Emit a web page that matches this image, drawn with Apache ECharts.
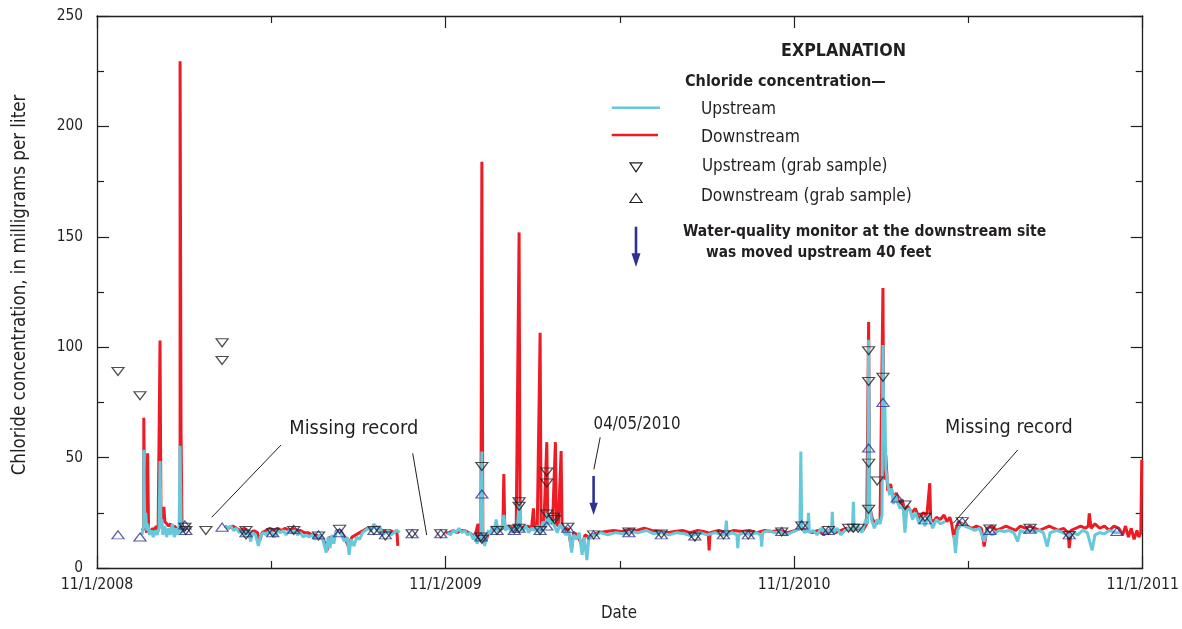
<!DOCTYPE html>
<html><head><meta charset="utf-8">
<script src="https://cdn.jsdelivr.net/npm/echarts@6/dist/echarts.min.js"></script>
<style>html,body{margin:0;padding:0;background:#fff}#c{width:1182px;height:629px}</style>
</head><body><div id="c"></div><script>
// ---------- DATA ----------
const xTickDates  = ['2008-11-01','2009-11-01','2010-11-01','2011-11-01'];
const xTickLabels = ['11/1/2008','11/1/2009','11/1/2010','11/1/2011'];
const yMin = 0, yMax = 250, yStep = 50;

// continuous record, upstream monitor (null = missing record)
const upstreamRecord = [
['2008-12-18',15],['2008-12-19',17],['2008-12-20',19],['2008-12-20',53.5],['2008-12-21',20],['2008-12-22',25],['2008-12-23',17],['2008-12-24',20],['2008-12-26',15],['2008-12-28',17],['2008-12-30',14],['2009-01-01',17],['2009-01-03',15],['2009-01-05',18],['2009-01-06',48.5],['2009-01-07',18],['2009-01-08',22],['2009-01-09',15],['2009-01-11',19],['2009-01-13',14],['2009-01-15',18],['2009-01-17',15],['2009-01-19',20],['2009-01-21',14],['2009-01-23',18],['2009-01-25',15],['2009-01-26',19],['2009-01-27',55.4],['2009-01-28',21],['2009-01-29',16],['2009-01-31',18],['2009-02-02',17],
['2009-02-20',null],
['2009-03-15',19],['2009-03-18',18],['2009-03-21',19],['2009-03-24',17],['2009-03-27',18],['2009-03-30',16],['2009-04-02',17],['2009-04-05',15],['2009-04-08',17],['2009-04-11',12],['2009-04-13',16],['2009-04-16',15],['2009-04-19',10],['2009-04-21',14],['2009-04-24',16],['2009-04-27',15],['2009-04-30',17],['2009-05-03',16],['2009-05-06',14],['2009-05-09',17],['2009-05-12',16],['2009-05-15',17],['2009-05-18',15],['2009-05-21',17],['2009-05-24',16],['2009-05-27',17],['2009-05-30',15],['2009-06-02',16],['2009-06-05',14],['2009-06-08',15],['2009-06-11',14],['2009-06-14',15],['2009-06-17',13],['2009-06-20',14],['2009-06-23',15],['2009-06-26',12],['2009-06-29',7],['2009-07-01',14],['2009-07-03',9],['2009-07-05',15],['2009-07-07',11],['2009-07-09',16],['2009-07-12',17],['2009-07-15',15],['2009-07-18',12],['2009-07-21',14],['2009-07-23',6],['2009-07-25',13],['2009-07-28',10],['2009-07-31',14],['2009-08-03',13],['2009-08-06',16],['2009-08-09',17],['2009-08-12',18],['2009-08-15',17],['2009-08-18',20],['2009-08-21',17],['2009-08-24',19],['2009-08-27',15],['2009-08-30',16],['2009-09-02',17],['2009-09-05',15],['2009-09-08',16],['2009-09-11',17],['2009-09-14',16],
['2009-10-10',null],
['2009-11-03',16],['2009-11-06',15],['2009-11-09',17],['2009-11-12',16],['2009-11-15',18],['2009-11-18',16],['2009-11-21',17],['2009-11-24',15],['2009-11-27',16],['2009-11-30',13],['2009-12-02',15],['2009-12-04',11],['2009-12-06',14],['2009-12-08',13],['2009-12-09',52.7],['2009-12-10',14],['2009-12-12',10],['2009-12-14',15],['2009-12-16',17],['2009-12-18',15],['2009-12-20',19],['2009-12-22',17],['2009-12-24',22],['2009-12-26',16],['2009-12-28',19],['2009-12-30',18],['2010-01-01',24],['2010-01-03',17],['2010-01-06',19],['2010-01-09',16],['2010-01-12',18],['2010-01-15',17],['2010-01-17',30],['2010-01-18',18],['2010-01-21',17],['2010-01-24',19],['2010-01-27',16],['2010-01-30',18],['2010-02-02',17],['2010-02-05',19],['2010-02-08',16],['2010-02-11',21],['2010-02-14',18],['2010-02-15',25],['2010-02-17',20],['2010-02-20',22],['2010-02-23',19],['2010-02-26',16],['2010-03-01',20],['2010-03-04',17],['2010-03-07',15],['2010-03-10',17],['2010-03-13',7],['2010-03-15',15],['2010-03-18',13],['2010-03-21',16],['2010-03-24',6],['2010-03-26',14],['2010-03-29',3.6],['2010-03-31',14],['2010-04-03',15],['2010-04-07',15],['2010-04-12',16],['2010-04-20',15],['2010-04-28',16],['2010-05-06',15.5],['2010-05-14',16.5],['2010-05-22',16],['2010-05-30',17],['2010-06-07',15.5],['2010-06-15',16],['2010-06-23',15],['2010-07-01',16],['2010-07-09',15.5],['2010-07-17',14.5],['2010-07-25',16],['2010-08-02',15],['2010-08-10',16],['2010-08-18',15],['2010-08-21',15.5],['2010-08-22',21.5],['2010-08-23',15],['2010-08-28',16],['2010-09-02',15],['2010-09-03',9],['2010-09-04',15],['2010-09-10',16],['2010-09-16',15],['2010-09-22',16],['2010-09-27',15],['2010-09-28',9.7],['2010-09-29',16],['2010-10-05',17],['2010-10-11',16],['2010-10-17',16.5],['2010-10-23',15],['2010-10-29',16],['2010-11-03',17],['2010-11-07',18],['2010-11-08',52.7],['2010-11-09',18],['2010-11-12',16],['2010-11-15',17],['2010-11-16',25],['2010-11-17',16],['2010-11-21',17],['2010-11-25',15],['2010-11-29',18],['2010-12-03',16],['2010-12-07',17],['2010-12-10',16],['2010-12-11',25.5],['2010-12-12',16],['2010-12-16',18],['2010-12-20',15],['2010-12-24',17],['2010-12-28',18],['2011-01-01',17],['2011-01-02',30],['2011-01-03',17],['2011-01-07',19],['2011-01-11',16],['2011-01-15',22],['2011-01-17',20],['2011-01-18',103.4],['2011-01-19',30],['2011-01-21',22],['2011-01-24',18],['2011-01-27',22],['2011-01-30',20],['2011-02-01',24],['2011-02-02',101],['2011-02-03',60],['2011-02-04',75],['2011-02-05',45],['2011-02-07',38],['2011-02-09',33],['2011-02-11',36],['2011-02-13',29],['2011-02-15',33],['2011-02-17',30],['2011-02-20',27],['2011-02-23',28],['2011-02-25',16],['2011-02-27',26],['2011-03-02',27],['2011-03-05',22],['2011-03-08',25],['2011-03-12',20],['2011-03-15',23],['2011-03-18',19],['2011-03-22',24],['2011-03-26',18],['2011-03-30',22],['2011-04-03',20],['2011-04-08',21],
['2011-04-12',null],
['2011-04-17',15],['2011-04-19',6.8],['2011-04-21',17],['2011-04-25',20],['2011-04-29',19],['2011-05-04',18],['2011-05-09',17],['2011-05-14',18],['2011-05-19',12],['2011-05-22',17],['2011-05-27',15],['2011-05-31',16],['2011-06-04',17],['2011-06-09',16.5],['2011-06-14',17],['2011-06-19',16],['2011-06-23',12],['2011-06-26',17],['2011-07-01',16],['2011-07-06',17],['2011-07-11',16.5],['2011-07-16',17],['2011-07-20',16],['2011-07-24',9.7],['2011-07-27',16],['2011-08-03',17],['2011-08-09',16],['2011-08-16',14.7],['2011-08-20',16],['2011-08-25',15],['2011-08-30',17],['2011-09-04',16],['2011-09-09',8],['2011-09-12',15],['2011-09-17',16],['2011-09-22',15.5],['2011-09-27',17],['2011-10-03',16],['2011-10-09',16]
];

// continuous record, downstream monitor (null = missing record)
const downstreamRecord = [
['2008-12-18',17],['2008-12-20',18],['2008-12-20',68],['2008-12-21',20],['2008-12-23',16],['2008-12-24',52],['2008-12-25',17],['2008-12-27',16],['2008-12-29',18],['2008-12-31',17],['2009-01-02',19],['2009-01-04',17],['2009-01-06',103],['2009-01-07',20],['2009-01-09',22],['2009-01-10',27.7],['2009-01-11',21],['2009-01-13',20],['2009-01-15',19],['2009-01-17',20],['2009-01-19',18],['2009-01-21',19],['2009-01-23',18],['2009-01-25',17],['2009-01-27',18],['2009-01-27',229.5],['2009-01-28',62],['2009-01-29',20],['2009-01-31',18],['2009-02-02',18],
['2009-02-20',null],
['2009-03-15',19],['2009-03-19',18],['2009-03-23',19],['2009-03-27',18],['2009-03-31',17],['2009-04-04',18],['2009-04-08',17],['2009-04-11',14],['2009-04-14',17],['2009-04-18',16],['2009-04-20',12],['2009-04-23',16],['2009-04-27',17],['2009-05-01',18],['2009-05-05',17],['2009-05-09',18],['2009-05-13',17],['2009-05-17',18],['2009-05-21',17],['2009-05-25',18],['2009-05-29',17],['2009-06-02',17],['2009-06-06',16],['2009-06-10',16],['2009-06-14',15],['2009-06-18',15],['2009-06-22',14],['2009-06-26',13],['2009-06-30',8],['2009-07-02',14],['2009-07-06',12],['2009-07-10',17],['2009-07-14',17],['2009-07-18',14],['2009-07-22',10],['2009-07-26',14],['2009-07-30',15],['2009-08-03',16],['2009-08-07',17],['2009-08-11',18],['2009-08-15',18],['2009-08-19',19],['2009-08-23',18],['2009-08-27',17],['2009-08-31',17],['2009-09-04',17],['2009-09-08',16],['2009-09-11',17],['2009-09-12',10],
['2009-10-10',null],
['2009-11-01',16],['2009-11-05',16],['2009-11-09',17],['2009-11-13',16],['2009-11-17',17],['2009-11-21',17],['2009-11-25',16],['2009-11-29',15],['2009-12-02',15],['2009-12-05',20],['2009-12-06',14],['2009-12-08',15],['2009-12-09',184],['2009-12-10',15],['2009-12-13',12],['2009-12-16',16],['2009-12-20',17],['2009-12-24',18],['2009-12-27',17],['2009-12-31',18],['2010-01-01',42.6],['2010-01-02',18],['2010-01-06',19],['2010-01-10',18],['2010-01-14',19],['2010-01-17',152],['2010-01-18',19],['2010-01-22',18],['2010-01-26',19],['2010-01-30',18],['2010-02-01',27],['2010-02-02',19],['2010-02-05',18],['2010-02-08',106.5],['2010-02-09',19],['2010-02-12',20],['2010-02-15',57],['2010-02-16',22],['2010-02-19',21],['2010-02-21',20],['2010-02-24',57],['2010-02-25',20],['2010-02-27',19],['2010-03-02',53],['2010-03-03',18],['2010-03-06',17],['2010-03-09',18],['2010-03-13',9],['2010-03-15',16],['2010-03-19',15],['2010-03-24',10],['2010-03-27',15],['2010-03-31',14],['2010-04-04',15],['2010-04-10',16],['2010-04-18',16.5],['2010-04-26',17],['2010-05-04',16.5],['2010-05-12',17.5],['2010-05-20',17],['2010-05-28',18],['2010-06-05',17],['2010-06-13',16.5],['2010-06-21',16],['2010-06-29',16.5],['2010-07-07',17],['2010-07-15',16],['2010-07-23',17],['2010-07-29',16.5],['2010-08-03',16],['2010-08-04',8],['2010-08-05',16],['2010-08-14',17],['2010-08-22',16],['2010-08-30',17],['2010-09-07',16.5],['2010-09-15',17],['2010-09-23',16],['2010-10-01',17],['2010-10-09',16.5],['2010-10-17',17],['2010-10-25',16],['2010-11-02',17],['2010-11-08',18],['2010-11-14',17],['2010-11-20',16],['2010-11-26',17],['2010-12-02',15],['2010-12-08',17],['2010-12-14',16],['2010-12-20',17],['2010-12-26',18],['2011-01-01',17],['2011-01-07',18],['2011-01-12',17],['2011-01-16',20],['2011-01-18',111.4],['2011-01-19',28],['2011-01-22',22],['2011-01-26',20],['2011-01-30',22],['2011-02-02',126.8],['2011-02-03',40],['2011-02-05',51],['2011-02-07',35],['2011-02-10',38],['2011-02-13',31],['2011-02-16',34],['2011-02-19',29],['2011-02-22',31],['2011-02-25',26],['2011-02-28',28],['2011-03-04',25],['2011-03-08',27],['2011-03-12',22],['2011-03-16',25],['2011-03-20',24],['2011-03-23',38.4],['2011-03-24',22],['2011-03-27',21],['2011-03-30',23],['2011-04-03',22],['2011-04-07',24],['2011-04-10',21],['2011-04-13',23],['2011-04-15',20],['2011-04-17',14],['2011-04-19',17],['2011-04-22',21],['2011-04-26',20],['2011-05-01',19],['2011-05-06',18],['2011-05-11',19],['2011-05-16',18],['2011-05-19',9.7],['2011-05-22',18],['2011-05-27',19],['2011-06-01',17],['2011-06-06',18],['2011-06-11',19],['2011-06-16',18],['2011-06-21',17],['2011-06-26',19],['2011-07-01',18],['2011-07-06',19],['2011-07-11',18],['2011-07-16',17],['2011-07-21',18],['2011-07-26',19],['2011-07-31',18],['2011-08-05',17],['2011-08-10',18],['2011-08-15',16],['2011-08-16',9],['2011-08-18',17],['2011-08-23',18],['2011-08-28',19],['2011-09-02',18],['2011-09-05',19],['2011-09-06',24.8],['2011-09-08',18],['2011-09-12',20],['2011-09-17',18],['2011-09-22',19],['2011-09-27',17],['2011-10-02',19],['2011-10-07',18],['2011-10-11',15],['2011-10-14',19],['2011-10-17',14],['2011-10-20',18],['2011-10-23',13],['2011-10-26',17],['2011-10-28',14],['2011-10-30',16],['2011-10-31',49]
];

// grab samples
const upstreamGrab = [
['2008-11-23',89],['2008-12-16',78],['2009-02-01',18.5],['2009-02-02',17],['2009-02-23',17],['2009-03-12',102],['2009-03-12',94],
['2009-04-06',17],['2009-04-06',15],['2009-05-04',16],['2009-05-26',17],['2009-06-21',14.5],['2009-07-13',17.5],['2009-08-18',17],['2009-08-30',14.5],
['2009-09-27',15.5],['2009-10-27',15.5],['2009-12-09',46],['2009-12-08',14],['2009-12-09',13],['2009-12-25',17],['2010-01-12',17.5],['2010-01-17',30],['2010-01-17',28],['2010-01-17',18],
['2010-02-08',17],['2010-02-15',43.5],['2010-02-15',38.5],['2010-02-15',24.5],['2010-02-22',23],['2010-02-23',22],['2010-03-09',18.5],['2010-04-05',15],
['2010-05-12',16.3],['2010-06-15',15.4],['2010-07-20',14],['2010-08-19',15],['2010-09-14',15],['2010-10-19',16.3],['2010-11-09',19],['2010-12-07',17],
['2010-12-28',18],['2011-01-02',18],['2011-01-07',18],['2011-01-18',98.4],['2011-01-18',84.5],['2011-01-18',47.5],['2011-01-18',26.6],['2011-01-27',39.4],['2011-02-02',86.4],
['2011-02-25',28.5],['2011-03-18',23],['2011-04-26',21],['2011-05-25',17.7],['2011-07-06',18],['2011-08-16',14.7]
];
const downstreamGrab = [
['2008-11-23',15],['2008-12-16',14],['2009-02-01',19.5],['2009-02-02',17],['2009-03-12',18.5],['2009-04-06',16],['2009-05-04',16],['2009-05-26',17.5],
['2009-06-21',15],['2009-07-13',16],['2009-08-18',17],['2009-08-30',15],['2009-09-27',15.5],['2009-10-27',15.5],['2009-12-09',33.5],['2009-12-08',14],
['2009-12-25',17],['2010-01-12',17],['2010-01-17',18],['2010-02-08',17],['2010-02-15',19],['2010-03-09',18],['2010-04-05',15],['2010-05-12',16],
['2010-06-15',15],['2010-07-20',14.5],['2010-08-19',15],['2010-09-14',15],['2010-10-19',16.5],['2010-11-09',19.5],['2010-12-07',17],['2011-01-18',54.3],
['2011-02-02',75],['2011-02-17',31.7],['2011-03-18',21.8],['2011-04-26',21],['2011-05-25',17],['2011-07-06',17.5],['2011-08-16',15],['2011-10-05',16.5]
];
const monitorMoveDate = '2010-04-05';
const monitorMoveLabel = '04/05/2010';

// ---------- HELPERS ----------
const DAY0 = Date.UTC(2008, 10, 1);
function toDay(s){ const p = s.split('-').map(Number); return (Date.UTC(p[0], p[1]-1, p[2]) - DAY0) / 864e5; }
function build(rec){ return rec.map(r => [toDay(r[0]), r[1] == null ? '-' : r[1]]); }

const FONT = "'Liberation Sans Narrow','DejaVu Sans Condensed','Arial Narrow',sans-serif";
const mctx = document.createElement('canvas').getContext('2d');
function fit(text, width, weight){ mctx.font = (weight || 'normal') + ' 100px ' + FONT; return 100 * width / mctx.measureText(text).width; }

const INK = '#231F20', CYAN = '#67C8DA', RED = '#ED1C24', NAVY = '#2E3192';
const xMin = toDay(xTickDates[0]), xMax = toDay(xTickDates[xTickDates.length-1]);
const xStep = toDay(xTickDates[1]) - toDay(xTickDates[0]);

const tickFs = fit(xTickLabels[1], 66) * 1.1;
const yTickFs = fit('250', 24) * 1.1;

function axisCommon(){
  return {
    axisLine: {show: true, onZero: false, lineStyle: {color: INK, width: 1.3}},
    axisTick: {show: true, inside: true, length: 12, lineStyle: {color: INK, width: 1.2}},
    minorTick: {show: true, splitNumber: 2, length: 7, lineStyle: {color: INK, width: 1.2}},
    splitLine: {show: false}, minorSplitLine: {show: false}
  };
}

const chart = echarts.init(document.getElementById('c'), null, {renderer: 'canvas'});
const option = {
  animation: false,
  backgroundColor: '#fff',
  grid: {left: 97, right: 37, top: 16, bottom: 61, containLabel: false},
  xAxis: [
    Object.assign({type: 'value', min: xMin, max: xMax, interval: xStep, position: 'bottom',
      axisLabel: {show: true, margin: 9, color: INK, fontSize: tickFs, fontFamily: FONT,
        formatter: v => { const i = xTickDates.findIndex(d => Math.abs(toDay(d) - v) < 0.5); return i >= 0 ? xTickLabels[i] : ''; }}}, axisCommon()),
    Object.assign({type: 'value', min: xMin, max: xMax, interval: xStep, position: 'top', axisLabel: {show: false}}, axisCommon())
  ],
  yAxis: [
    Object.assign({type: 'value', min: yMin, max: yMax, interval: yStep, position: 'left',
      axisLabel: {show: true, margin: 14, color: INK, fontSize: yTickFs, fontFamily: FONT}}, axisCommon()),
    Object.assign({type: 'value', min: yMin, max: yMax, interval: yStep, position: 'right', axisLabel: {show: false}}, axisCommon())
  ],
  series: [
    {name: 'Downstream', type: 'line', data: build(downstreamRecord), showSymbol: false, silent: true, connectNulls: false,
      lineStyle: {color: RED, width: 3, join: 'bevel'}, z: 2},
    {name: 'Upstream', type: 'line', data: build(upstreamRecord), showSymbol: false, silent: true, connectNulls: false,
      lineStyle: {color: CYAN, width: 3, join: 'bevel'}, z: 3},
    {name: 'Downstream (grab sample)', type: 'scatter', data: build(downstreamGrab), symbol: 'triangle', symbolSize: [12, 8], silent: true,
      itemStyle: {color: 'rgba(0,0,0,0)', borderColor: NAVY, borderWidth: 1.2}, z: 4},
    {name: 'Upstream (grab sample)', type: 'scatter', data: build(upstreamGrab), symbol: 'triangle', symbolRotate: 180, symbolSize: [12, 8], silent: true,
      itemStyle: {color: 'rgba(0,0,0,0)', borderColor: INK, borderWidth: 1.2}, z: 5}
  ]
};
chart.setOption(option);

// ---------- ANNOTATIONS & EXPLANATION ----------
function txt(text, x, y, width, opts){
  opts = opts || {};
  const weight = opts.bold ? 'bold' : 'normal';
  const fs = fit(text, width, weight);
  return {type: 'text', x: x, y: y, rotation: opts.rotation || 0, silent: true, z: 10,
    style: {text: text, x: 0, y: 0, fill: INK, fontSize: fs, fontWeight: weight, fontFamily: FONT,
      align: opts.align || 'left', verticalAlign: 'middle', textAlign: opts.align || 'left', textVerticalAlign: 'middle'}};
}
function seg(x1, y1, x2, y2, color, w){
  return {type: 'line', silent: true, z: 10, shape: {x1, y1, x2, y2}, style: {stroke: color || INK, lineWidth: w || 1}};
}
function tri(cx, cy, w, h, down, color){
  const pts = down ? [[cx - w/2, cy - h/2], [cx + w/2, cy - h/2], [cx, cy + h/2]]
                   : [[cx - w/2, cy + h/2], [cx + w/2, cy + h/2], [cx, cy - h/2]];
  return {type: 'polygon', silent: true, z: 10, shape: {points: pts}, style: {fill: 'none', stroke: color || INK, lineWidth: 1.2}};
}
function arrow(x, yTop, yBase, yTip, headW){
  return [seg(x, yTop, x, yBase + 2, NAVY, 2.6),
    {type: 'polygon', silent: true, z: 10, shape: {points: [[x - headW/2, yBase], [x + headW/2, yBase], [x, yTip]]}, style: {fill: NAVY}}];
}

const mvX = chart.convertToPixel({xAxisIndex: 0}, toDay(monitorMoveDate));
const yTop = chart.convertToPixel({yAxisIndex: 0}, 41.7);
const yBase = chart.convertToPixel({yAxisIndex: 0}, 29.6);
const yTip = chart.convertToPixel({yAxisIndex: 0}, 24);

const graphics = [
  // axis titles
  txt('Chloride concentration, in milligrams per liter', 20, 285, 381, {align: 'center', rotation: Math.PI/2}),
  txt('Date', 619, 614, 36, {align: 'center'}),
  // explanation
  txt('EXPLANATION', 843.5, 51.5, 125, {bold: true, align: 'center'}),
  txt('Chloride concentration\u2014', 685, 81.5, 201, {bold: true}),
  seg(611.7, 107.7, 660, 107.7, CYAN, 2.6),
  txt('Upstream', 701, 110, 75),
  seg(611.7, 135, 658, 135, RED, 2.6),
  txt('Downstream', 701, 137, 99),
  tri(636, 167.3, 12, 9, true),
  txt('Upstream (grab sample)', 702, 167, 185.6),
  tri(636, 198, 12, 9, false),
  txt('Downstream (grab sample)', 701, 197, 211),
  ...arrow(636, 226.7, 253.3, 267, 9),
  txt('Water-quality monitor at the downstream site', 683, 232, 363.7, {bold: true}),
  txt('was moved upstream 40 feet', 706, 253, 225.7, {bold: true}),
  // annotations
  txt('Missing record', 289.3, 429.3, 129),
  seg(281, 445, 211.7, 517.3),
  seg(412.7, 453.3, 426.7, 535),
  txt('Missing record', 945, 428.3, 127.7),
  seg(1017.7, 450, 953.3, 523.3),
  txt(monitorMoveLabel, mvX, 425, 87),
  seg(mvX + 6.6, 437.3, mvX + 0.3, 469.3),
  ...arrow(mvX, yTop, yBase, yTip, 8.3)
];
chart.setOption({graphic: {elements: graphics}});
</script></body></html>
